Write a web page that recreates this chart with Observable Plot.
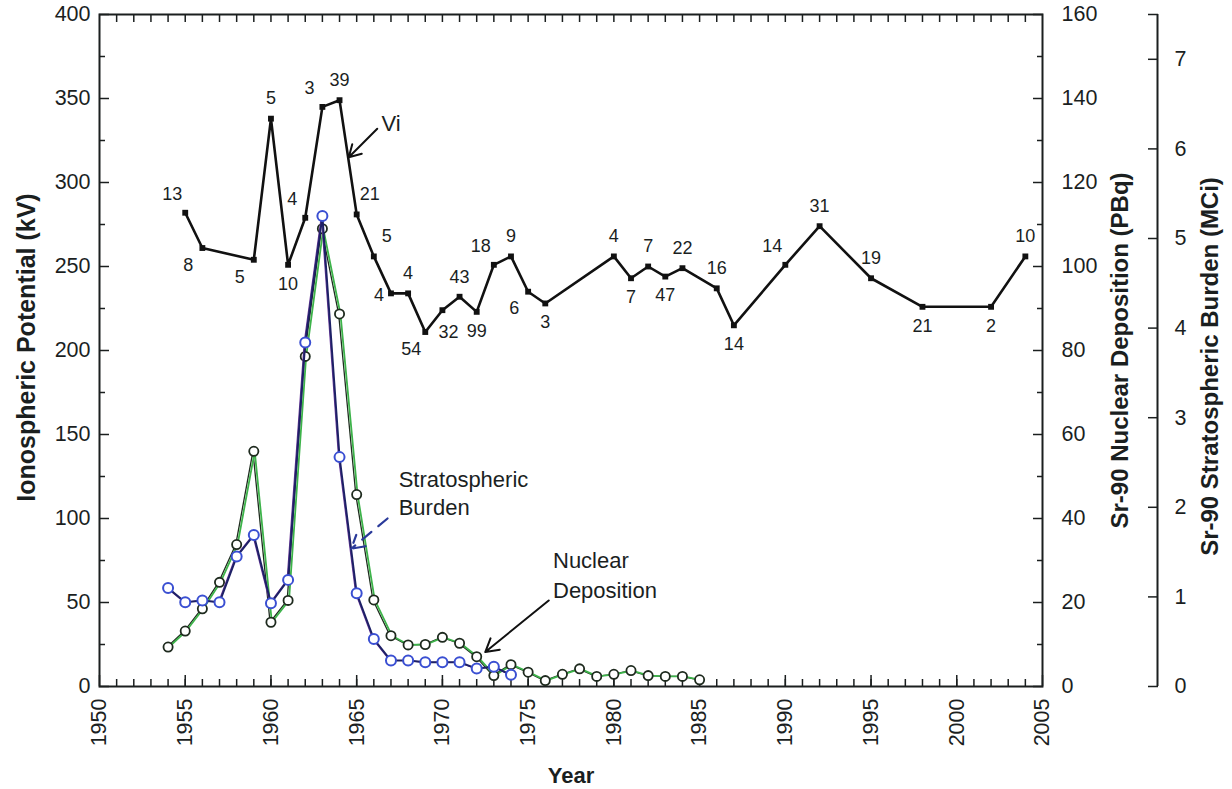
<!DOCTYPE html>
<html><head><meta charset="utf-8">
<script src="https://cdn.jsdelivr.net/npm/d3@7"></script>
<script src="https://cdn.jsdelivr.net/npm/@observablehq/plot@0.6"></script>
<style>body{margin:0;background:#fff}</style>
</head><body><div id="chart"></div>
<script>
// ---- Data ----
// Ionospheric potential Vi (kV) with number of soundings per year
const viYears = [1955,1956,1959,1960,1961,1962,1963,1964,1965,1966,1967,1968,1969,1970,1971,1972,1973,1974,1975,1976,1980,1981,1982,1983,1984,1986,1987,1990,1992,1995,1998,2002,2004];
const viValues = [282,261,254,338,251,279,345,349,281,256,234,234,211,224,232,223,251,256,235,228,256,243,250,244,249,237,215,251,274,243,226,226,256];
const viSoundings = [13,8,5,5,10,4,3,39,21,5,4,4,54,32,43,99,18,9,6,3,4,7,7,47,22,16,14,14,31,19,21,2,10];

// Sr-90 nuclear deposition (PBq)
const depositionYears = [1954,1955,1956,1957,1958,1959,1960,1961,1962,1963,1964,1965,1966,1967,1968,1969,1970,1971,1972,1973,1974,1975,1976,1977,1978,1979,1980,1981,1982,1983,1984,1985];
const depositionPBq = [9.4,13.2,18.5,24.8,33.8,56,15.3,20.5,78.6,109,88.7,45.7,20.6,12.1,9.9,10,11.7,10.3,7.1,2.6,5.2,3.4,1.4,2.9,4.2,2.4,2.9,3.8,2.6,2.4,2.4,1.6];

// Sr-90 stratospheric burden (MCi)
const burdenYears = [1954,1955,1956,1957,1958,1959,1960,1961,1962,1963,1964,1965,1966,1967,1968,1969,1970,1971,1972,1973,1974];
const burdenMCi = [1.10,0.94,0.96,0.94,1.45,1.69,0.93,1.19,3.84,5.25,2.56,1.04,0.53,0.29,0.29,0.27,0.27,0.27,0.20,0.22,0.13];

// Axis tick values
const yearTicks = [1950,1955,1960,1965,1970,1975,1980,1985,1990,1995,2000,2005];
const kvTicks = [0,50,100,150,200,250,300,350,400];
const pbqTicks = [0,20,40,60,80,100,120,140,160];
const mciTicks = [0,1,2,3,4,5,6,7];

// ---- Layout (label placement, annotations) ----
const viLabelPos = ["tl","bl","bl","t","b","tl","tl","t","tr","tr","l","t","bl","br","t","b","tl","t","bl","b","t","b","t","b","t","t","b","tl","t","t","b","b","t"];
const posOffsets = {t:[0,-20], b:[0,19], tl:[-13,-19], bl:[-14,17], tr:[13,-20], l:[-12,2], br:[6,22]};

const xDomain = [1950, 2005];
const yDomain = [0, 400];
const PBQ_TO_KV = 400 / 160;
const MCI_TO_KV = 400 / 7.5;
const ink = "#1b1f1f";

const vi = viYears.map((year, i) => ({year, kv: viValues[i], n: viSoundings[i], pos: viLabelPos[i]}));
const dep = depositionYears.map((year, i) => ({year, kv: depositionPBq[i] * PBQ_TO_KV}));
const bur = burdenYears.map((year, i) => ({year, kv: burdenMCi[i] * MCI_TO_KV}));

const allYears = d3.range(xDomain[0] + 1, xDomain[1]);
const kvMinor = d3.range(25, 400, 50);
const pbqMinor = d3.range(10, 160, 20);

const annotations = [
  {x: 1966.45, y: 335, text: "Vi"},
  {x: 1967.45, y: 123, text: "Stratospheric"},
  {x: 1967.45, y: 106, text: "Burden"},
  {x: 1976.45, y: 75, text: "Nuclear"},
  {x: 1976.45, y: 57, text: "Deposition"}
];
const blackArrows = [
  {x1: 1966.2, y1: 332, x2: 1964.54, y2: 315},
  {x1: 1976.2, y1: 51.2, x2: 1972.5, y2: 20.5}
];
const blueArrows = [
  {x1: 1966.8, y1: 100, x2: 1964.68, y2: 82}
];

const viLabelMarks = Object.entries(posOffsets).map(([code, [dx, dy]]) =>
  Plot.text(vi.filter(d => d.pos === code), {
    x: "year", y: "kv", text: d => String(d.n), dx, dy,
    fontSize: 18, fill: ink, textAnchor: "middle", lineAnchor: "middle"
  })
);

const mciLabel = v => {
  const m = v / MCI_TO_KV;
  return Math.abs(m - Math.round(m)) < 1e-6 ? String(Math.round(m)) : "";
};

const chart = Plot.plot({
  width: 1232, height: 789,
  marginLeft: 99, marginRight: 190, marginTop: 14, marginBottom: 103,
  x: {domain: xDomain, axis: null},
  y: {domain: yDomain, axis: null},
  style: {fontFamily: "'Liberation Sans', Arial, sans-serif", fontSize: "21px", color: ink, background: "white"},
  marks: [
    // left axis (kV)
    Plot.axisY(kvMinor, {anchor: "left", tickSize: -6, tickFormat: () => "", strokeWidth: 1.5, label: null}),
    Plot.axisY(kvTicks, {anchor: "left", tickSize: -10, tickPadding: 19, strokeWidth: 1.5, label: null, fontSize: 21.5}),
    // right axis (PBq)
    Plot.axisY(pbqMinor.map(v => v * PBQ_TO_KV), {anchor: "right", tickSize: -6, tickFormat: () => "", strokeWidth: 1.5, label: null}),
    Plot.axisY(pbqTicks.map(v => v * PBQ_TO_KV), {anchor: "right", tickSize: -10, tickPadding: 29, strokeWidth: 1.5, label: null, fontSize: 21.5, tickFormat: v => String(Math.round(v / PBQ_TO_KV))}),
    // far right axis (MCi)
    Plot.ruleX([xDomain[1]], {y1: yDomain[0], y2: yDomain[1], dx: 115, stroke: ink, strokeWidth: 2}),
    Plot.axisY([...mciTicks, 7.5].map(v => v * MCI_TO_KV), {anchor: "right", dx: 115, tickSize: -10, tickPadding: 27, strokeWidth: 1.5, label: null, fontSize: 21.5, tickFormat: mciLabel}),
    // x axis bottom
    Plot.axisX(allYears, {anchor: "bottom", tickSize: -7, tickFormat: () => "", strokeWidth: 1.5, label: null}),
    Plot.axisX(yearTicks, {anchor: "bottom", tickSize: -11, tickPadding: 23, tickRotate: -90, strokeWidth: 1.5, label: null, fontSize: 21.5, tickFormat: d => String(d)}),
    // x axis top ticks
    Plot.axisX(allYears, {anchor: "top", tickSize: -7, tickFormat: () => "", strokeWidth: 1.5, label: null}),
    Plot.frame({stroke: ink, strokeWidth: 2}),

    // Nuclear deposition (green)
    Plot.line(dep, {x: "year", y: "kv", stroke: "#1f2d1f", strokeWidth: 1.3, dx: -0.9}),
    Plot.line(dep, {x: "year", y: "kv", stroke: "#3db34a", strokeWidth: 1.8, dx: 0.9}),
    Plot.dot(dep, {x: "year", y: "kv", r: 4.6, stroke: "#1e2a1e", strokeWidth: 1.8, fill: "white"}),

    // Stratospheric burden (blue)
    Plot.line(bur, {x: "year", y: "kv", stroke: "#6a3a9a", strokeWidth: 1.2, dx: -1}),
    Plot.line(bur, {x: "year", y: "kv", stroke: "#1d2066", strokeWidth: 2}),
    Plot.dot(bur, {x: "year", y: "kv", r: 5, stroke: "#3a4fd2", strokeWidth: 2, fill: "white"}),

    // Vi (black)
    Plot.line(vi, {x: "year", y: "kv", stroke: "#111", strokeWidth: 2.6}),
    Plot.dot(vi, {x: "year", y: "kv", symbol: "square", r: 3.3, fill: "#111"}),
    ...viLabelMarks,

    // annotations
    Plot.arrow(blackArrows, {x1: "x1", y1: "y1", x2: "x2", y2: "y2", stroke: "#111", strokeWidth: 2, headLength: 11}),
    Plot.arrow(blueArrows, {x1: "x1", y1: "y1", x2: "x2", y2: "y2", stroke: "#2a3a9a", strokeWidth: 2.2, headLength: 10, strokeDasharray: "12,9"}),
    Plot.text(annotations, {x: "x", y: "y", text: "text", textAnchor: "start", lineAnchor: "middle", fontSize: 22, fill: ink}),

    // axis titles
    Plot.text(["Ionospheric Potential (kV)"], {text: d => d, frameAnchor: "left", textAnchor: "middle", lineAnchor: "middle", rotate: -90, dx: -73, dy: -3, fontSize: 25, fontWeight: "bold", fill: ink}),
    Plot.text(["Sr-90 Nuclear Deposition (PBq)"], {text: d => d, frameAnchor: "right", textAnchor: "middle", lineAnchor: "middle", rotate: -90, dx: 78, dy: 0, fontSize: 24, fontWeight: "bold", fill: ink}),
    Plot.text(["Sr-90 Stratospheric Burden (MCi)"], {text: d => d, frameAnchor: "right", textAnchor: "middle", lineAnchor: "middle", rotate: -90, dx: 168, dy: 16, fontSize: 24, fontWeight: "bold", fill: ink}),
    Plot.text(["Year"], {text: d => d, frameAnchor: "bottom", textAnchor: "middle", lineAnchor: "middle", dy: 89, fontSize: 22, fontWeight: "bold", fill: ink})
  ]
});
document.getElementById("chart").appendChild(chart);
</script>
</body></html>
